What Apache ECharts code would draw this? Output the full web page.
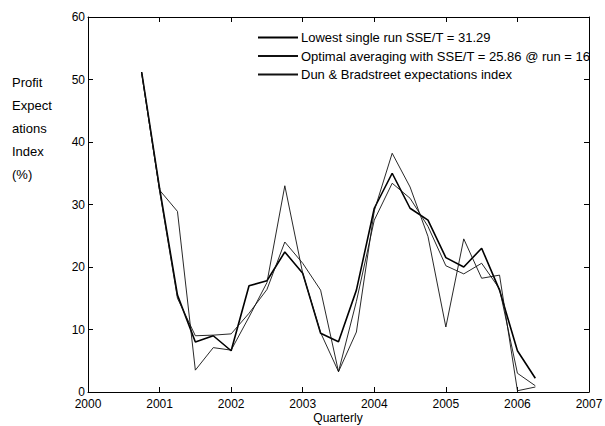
<!DOCTYPE html>
<html>
<head>
<meta charset="utf-8">
<script src="https://cdn.jsdelivr.net/npm/echarts@6/dist/echarts.min.js"></script>
<style>
  html, body { margin: 0; padding: 0; background: #fff; }
  #chart { width: 605px; height: 426px; }
</style>
</head>
<body>
<div id="chart"></div>
<script>
// quarters from 2000 Q4 to 2006 Q2
const quarters = [2000.75, 2001, 2001.25, 2001.5, 2001.75, 2002, 2002.25, 2002.5, 2002.75, 2003,
  2003.25, 2003.5, 2003.75, 2004, 2004.25, 2004.5, 2004.75, 2005, 2005.25, 2005.5, 2005.75, 2006, 2006.25];

const lowestRun = [51.2, 32.6, 15.5, 8.0, 9.0, 6.6, 17.0, 17.8, 22.4, 19.0, 9.4, 8.05, 16.3,
  29.4, 35.0, 29.4, 27.5, 21.5, 20.0, 23.0, 16.3, 6.6, 2.2];
const optimalAvg = [51.0, 32.2, 15.0, 9.0, 9.1, 9.3, 12.6, 16.4, 24.0, 20.6, 16.3, 3.25, 14.5,
  27.5, 33.4, 31.0, 26.5, 20.2, 18.9, 20.6, 16.5, 3.0, 1.0];
const dnbIndex = [51.0, 32.3, 28.9, 3.5, 7.1, 6.7, 12.0, 17.5, 33.0, 19.0, 9.5, 3.25, 9.6,
  29.0, 38.2, 32.8, 24.9, 10.4, 24.5, 18.2, 18.7, 0.2, 0.8];

const seriesNames = [
  'Lowest single run SSE/T = 31.29',
  'Optimal averaging with SSE/T = 25.86 @ run = 16',
  'Dun & Bradstreet expectations index'
];

const pairs = (vals) => quarters.map((q, i) => [q, vals[i]]);

const chart = echarts.init(document.getElementById('chart'), null, { renderer: 'svg' });

const font = 'Liberation Sans, Arial, sans-serif';
const tickStyle = { show: true, inside: true, length: 5, lineStyle: { color: '#000', width: 1 } };
const axisLine = { show: true, onZero: false, lineStyle: { color: '#000', width: 1 } };

const option = {
  animation: false,
  backgroundColor: '#fff',
  grid: { left: 88, right: 16, top: 17, bottom: 34, containLabel: false, outerBoundsMode: 'none' },
  legend: {
    orient: 'vertical',
    left: 257,
    top: 31,
    padding: 0,
    itemWidth: 40,
    itemHeight: 12,
    itemGap: 5.5,
    selectedMode: false,
    itemStyle: { opacity: 0 },
    textStyle: { fontFamily: font, fontSize: 13, color: '#000', padding: [0, 0, 0, -2] },
    data: seriesNames
  },
  xAxis: [
    {
      type: 'value', min: 2000, max: 2007, interval: 1,
      axisLine: axisLine, axisTick: tickStyle,
      axisLabel: { color: '#000', fontFamily: font, fontSize: 12, margin: 6, formatter: v => String(v) },
      splitLine: { show: false }
    },
    {
      type: 'value', min: 2000, max: 2007, interval: 1, position: 'top',
      axisLine: axisLine, axisTick: tickStyle,
      axisLabel: { show: false }, splitLine: { show: false }
    }
  ],
  yAxis: [
    {
      type: 'value', min: 0, max: 60, interval: 10,
      axisLine: axisLine, axisTick: tickStyle,
      axisLabel: { color: '#000', fontFamily: font, fontSize: 12, margin: 3 },
      splitLine: { show: false }
    },
    {
      type: 'value', min: 0, max: 60, interval: 10, position: 'right',
      axisLine: axisLine, axisTick: tickStyle,
      axisLabel: { show: false }, splitLine: { show: false }
    }
  ],
  graphic: [
    {
      type: 'text', left: 12, top: 71,
      style: {
        text: 'Profit\nExpect\nations\nIndex\n(%)',
        font: '13px ' + font, fill: '#000', lineHeight: 23
      }
    },
    {
      type: 'text', x: 338, y: 418,
      style: {
        text: 'Quarterly', font: '12px ' + font, fill: '#000',
        align: 'center', verticalAlign: 'middle'
      }
    }
  ],
  series: [
    {
      name: seriesNames[0], type: 'line', data: pairs(lowestRun),
      symbol: 'none', lineStyle: { color: '#000', width: 1.6 }, itemStyle: { color: '#000' },
      emphasis: { disabled: true }, z: 3
    },
    {
      name: seriesNames[1], type: 'line', data: pairs(optimalAvg),
      symbol: 'none', lineStyle: { color: '#111', width: 0.9 }, itemStyle: { color: '#111' },
      emphasis: { disabled: true }
    },
    {
      name: seriesNames[2], type: 'line', data: pairs(dnbIndex),
      symbol: 'none', lineStyle: { color: '#111', width: 0.9 }, itemStyle: { color: '#111' },
      emphasis: { disabled: true }
    }
  ]
};

chart.setOption(option);
</script>
</body>
</html>
